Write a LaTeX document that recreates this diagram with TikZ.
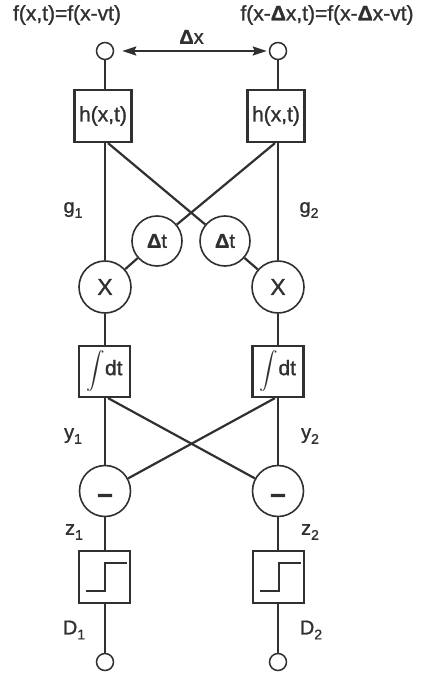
\documentclass[tikz,border=0pt]{standalone}
\usepackage{fontspec}
\usepackage{graphicx}
\setmainfont{Liberation Sans}[RawFeature={embolden=1.2}]
\usetikzlibrary{calc,arrows.meta}
\definecolor{ink}{HTML}{303030}
\newcommand{\sbs}[1]{\raisebox{-0.25em}{\fontsize{14}{14}\selectfont #1}}
\begin{document}
\begin{tikzpicture}[x=1pt,y=-1pt,
  every node/.style={text=ink},
  term/.style={circle,draw=ink,line width=1.5pt,minimum size=17pt,inner sep=0pt},
  blk/.style={rectangle,draw=ink,line width=2.2pt,inner sep=0pt},
  opc/.style={circle,draw=ink,line width=1.6pt,minimum size=51pt,inner sep=0pt},
  wire/.style={draw=ink,line width=1.4pt},
  xwire/.style={draw=ink,line width=2.2pt},
  lbl/.style={font=\fontsize{20}{20}\selectfont},
  big/.style={font=\fontsize{21}{21}\selectfont}]
\fill[white] (0,0) rectangle (423,676);
\useasboundingbox (0,0) rectangle (423,676);
% titles
\node[big] (ttlL) at (67,15) {f(x,t)=f(x-vt)};
\node[big] (ttlR) at (327,15) {f(x-\textbf{Δ}x,t)=f(x-\textbf{Δ}x-vt)};
% terminals
\node[term] (tL) at (105,51) {};
\node[term] (tR) at (278,51) {};
\draw[wire,line width=1.8pt,{Stealth[length=14pt,width=9pt,inset=2pt]}-{Stealth[length=14pt,width=9pt,inset=2pt]},shorten <=8pt,shorten >=2pt] (tL) -- (tR) node[midway,above=3pt,lbl] (dx) {\textbf{Δ}x};
% h boxes
\node[blk,minimum width=57pt,minimum height=52pt,big] (hL) at (103,116) {h(x,t)};
\node[blk,minimum width=57pt,minimum height=52pt,big] (hR) at (276,116) {h(x,t)};
% delay circles
\node[opc,minimum size=50pt,font=\fontsize{20}{20}\selectfont] (dtL) at (157,241) {\textbf{Δ}t};
\node[opc,minimum size=50pt,font=\fontsize{20}{20}\selectfont] (dtR) at (225,241) {\textbf{Δ}t};
% multipliers
\node[opc,minimum size=52pt,font=\fontsize{23}{23}\selectfont] (xL) at (105,287) {X};
\node[opc,minimum size=52pt,font=\fontsize{23}{23}\selectfont] (xR) at (278,287) {X};
% integrators
\node[blk,minimum width=51pt,minimum height=51pt] (iL) at (104.5,371.5) {\raisebox{-1pt}{\scalebox{1.85}{$\displaystyle\int$}}\fontsize{21}{21}\selectfont dt};
\node[blk,minimum width=51pt,minimum height=51pt] (iR) at (278,371.5) {\raisebox{-1pt}{\scalebox{1.85}{$\displaystyle\int$}}\fontsize{21}{21}\selectfont dt};
% subtractors
\node[opc] (mL) at (105,491) {\smash{\raisebox{-12pt}{\fontsize{28}{28}\selectfont\bfseries –}}};
\node[opc] (mR) at (278,491) {\smash{\raisebox{-12pt}{\fontsize{28}{28}\selectfont\bfseries –}}};
% step boxes
\node[blk,minimum width=51pt,minimum height=52pt] (sL) at (104.5,577) {};
\node[blk,minimum width=51pt,minimum height=52pt] (sR) at (278.5,577) {};
\draw[xwire,line width=1.9pt] ($(sL)+(-18.5,14)$) -- ($(sL)+(0.5,14)$) -- ($(sL)+(0.5,-14)$) -- ($(sL)+(22,-14)$);
\draw[xwire,line width=1.9pt] ($(sR)+(-18.5,14)$) -- ($(sR)+(0.5,14)$) -- ($(sR)+(0.5,-14)$) -- ($(sR)+(22,-14)$);
% output terminals
\node[term] (bL) at (105,662) {};
\node[term] (bR) at (278,662) {};
% labels
\node[lbl] (g1) at (73,210) {g\sbs{1}};
\node[lbl] (g2) at (309,210) {g\sbs{2}};
\node[lbl] (y1) at (73,436) {y\sbs{1}};
\node[lbl] (y2) at (310,436) {y\sbs{2}};
\node[lbl] (z1) at (74,532) {z\sbs{1}};
\node[lbl] (z2) at (310,532) {z\sbs{2}};
\node[lbl] (d1) at (74,630) {D\sbs{1}};
\node[lbl] (d2) at (311,630) {D\sbs{2}};
% vertical wires
\foreach \s in {L,R}{
  \draw[wire] (t\s) -- (t\s |- h\s.north);
  \draw[wire] (h\s.south -| x\s) -- (x\s);
  \draw[wire] (x\s) -- (x\s |- i\s.north);
  \draw[wire] (i\s.south -| m\s) -- (m\s);
  \draw[wire] (m\s) -- (m\s |- s\s.north);
  \draw[wire] (s\s.south -| b\s) -- (b\s);
}
% crossing wires
\coordinate (hLo) at ([xshift=5pt]hL.south);
\coordinate (hRo) at ([xshift=-1pt]hR.south);
\coordinate (iLo) at ([xshift=3.5pt]iL.south);
\coordinate (iRo) at ([xshift=-3pt]iR.south);
\draw[xwire] (hLo) -- (dtR);
\draw[xwire] (hRo) -- (dtL);
\draw[xwire] (dtL) -- (xL);
\draw[xwire] (dtR) -- (xR);
\draw[xwire] (iLo) -- (mR);
\draw[xwire] (iRo) -- (mL);
\end{tikzpicture}
\end{document}
